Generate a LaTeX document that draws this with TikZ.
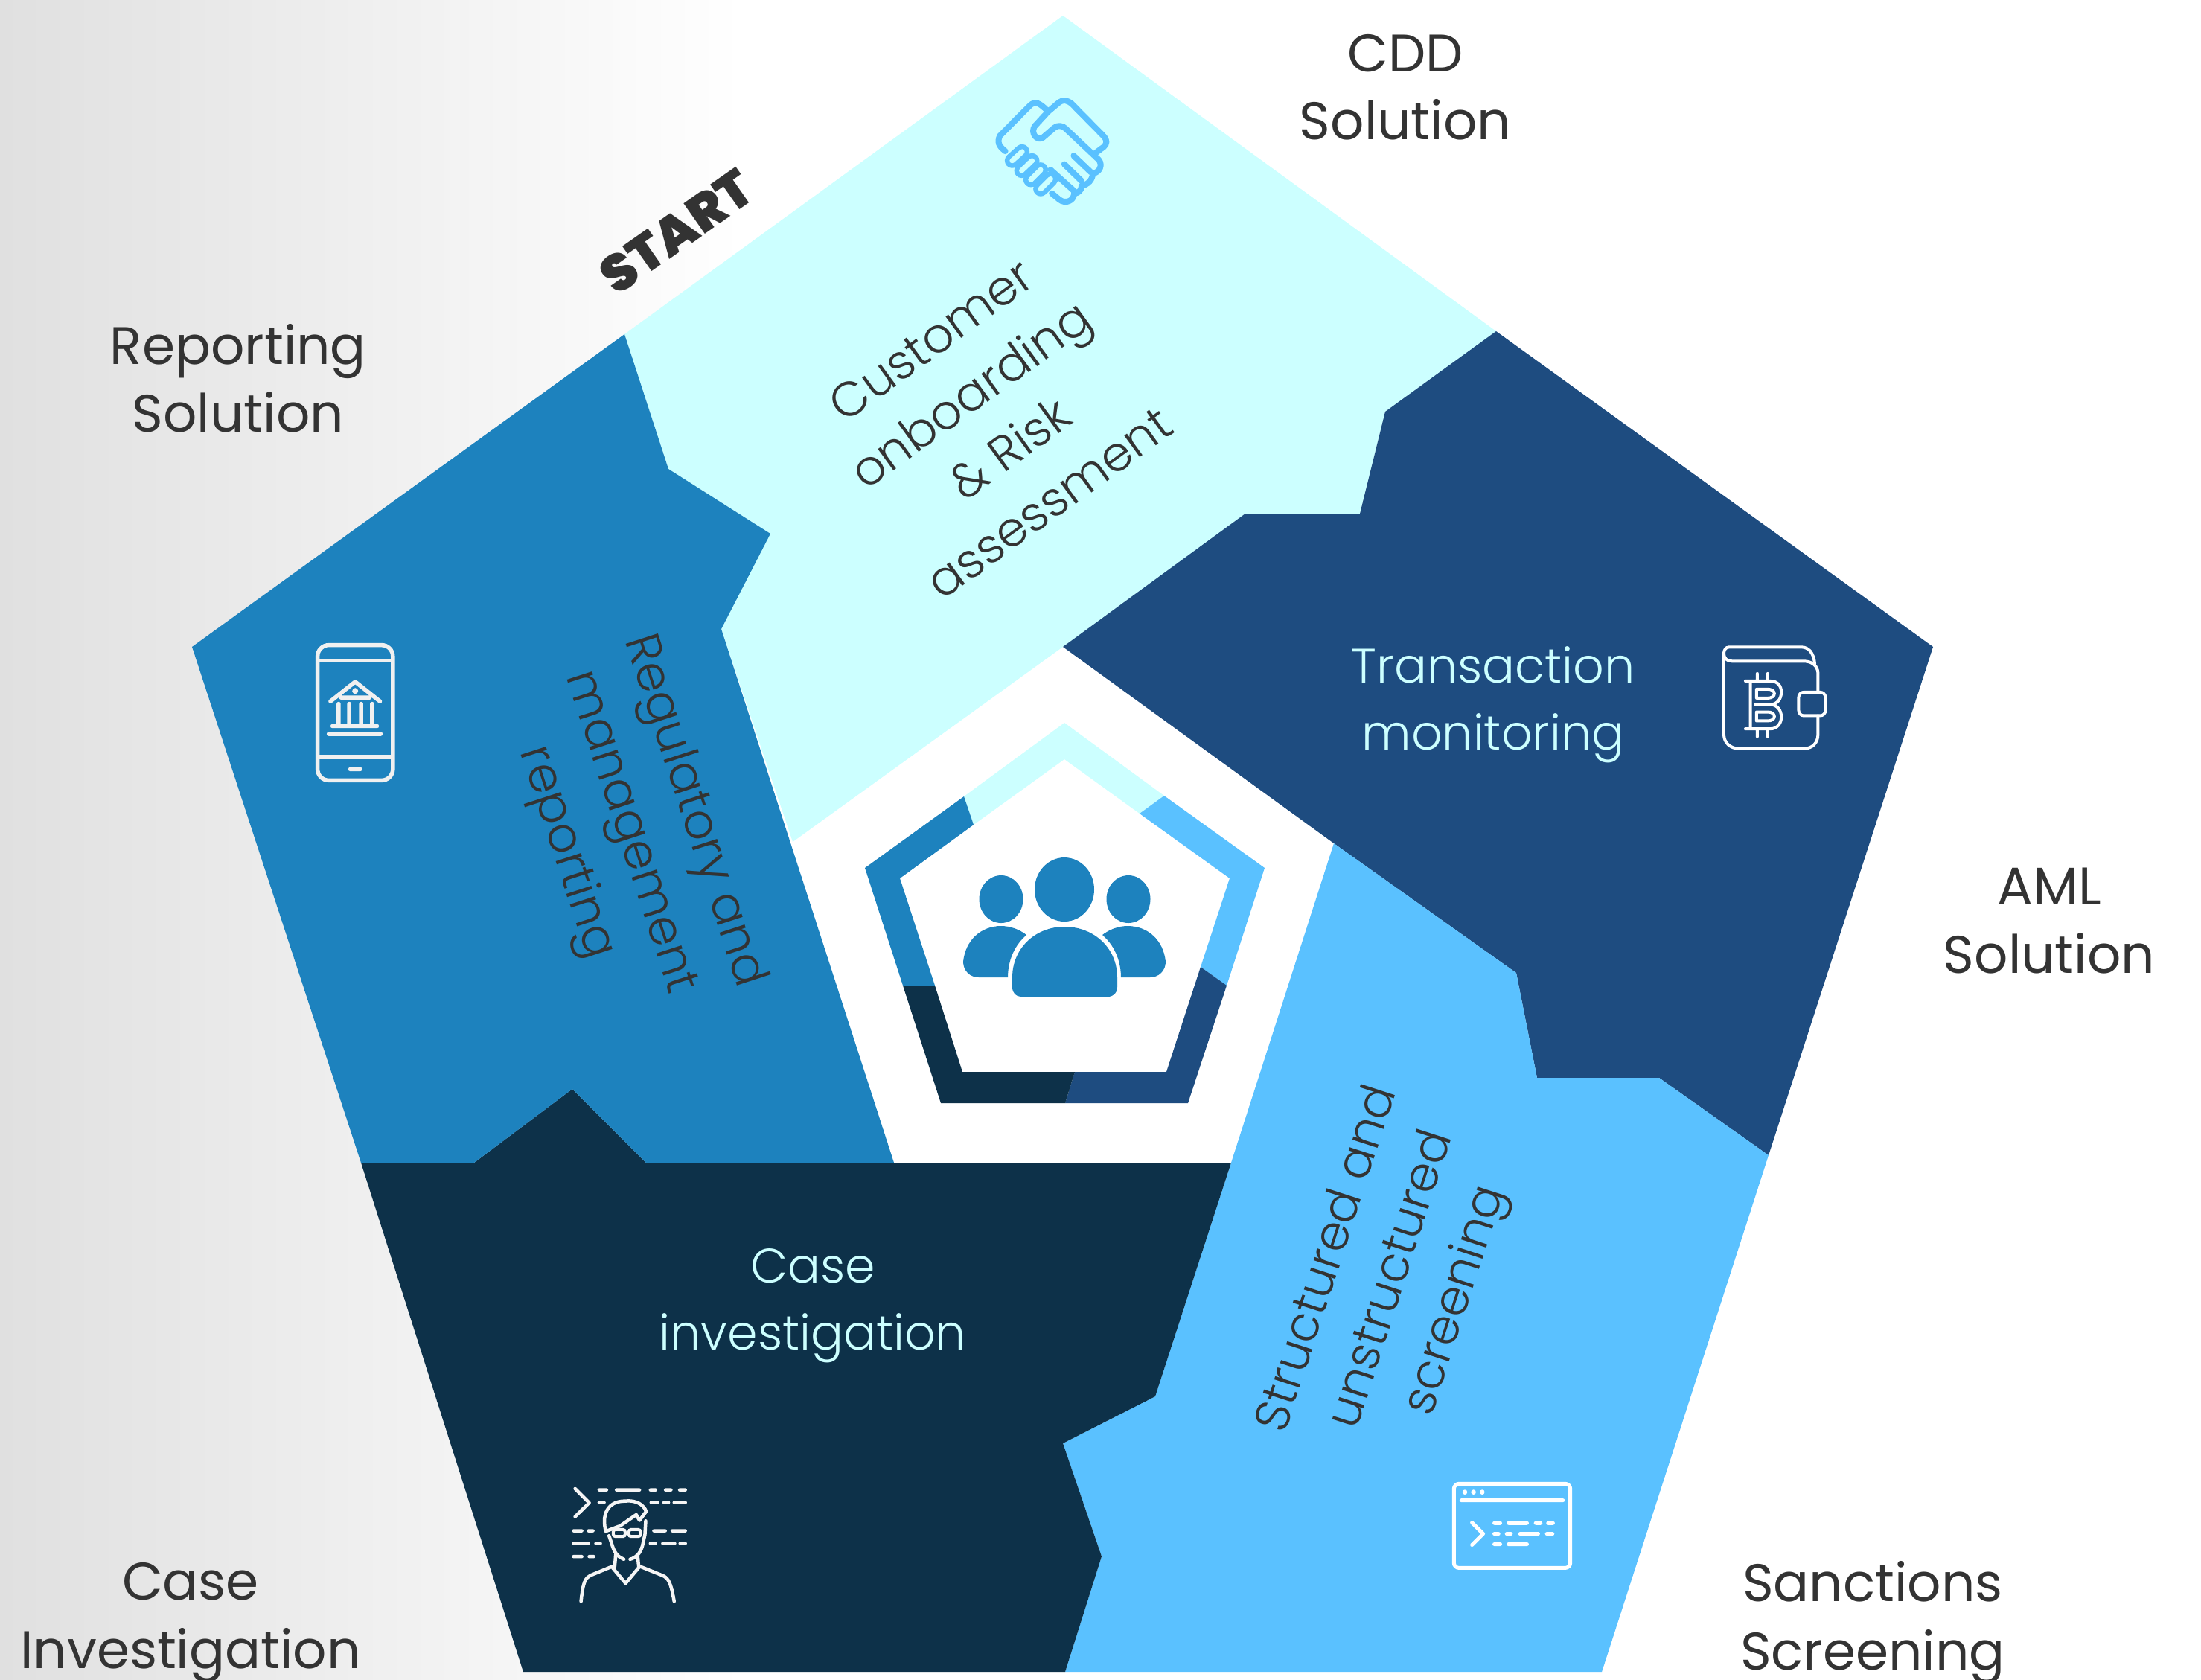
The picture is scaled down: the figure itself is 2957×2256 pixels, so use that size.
\documentclass[tikz,border=0pt]{standalone}
\usepackage{fontspec}
\setmainfont{Poppins}
\newfontfamily\lightf{Poppins Light}
\newfontfamily\blackf{Poppins Black}
\definecolor{cyanp}{HTML}{CCFFFF}
\definecolor{navyp}{HTML}{1E4C80}
\definecolor{skyp}{HTML}{5AC1FF}
\definecolor{darkp}{HTML}{0D3149}
\definecolor{midp}{HTML}{1D82BE}
\definecolor{textp}{HTML}{333333}
\definecolor{bgl}{HTML}{E0E0E0}
\tikzset{
  sol/.style={font=\fontsize{20.2}{26}\selectfont, text=textp, align=center, inner sep=0pt},
  body/.style={font=\lightf\fontsize{18.5}{25.6}\selectfont, text=textp, align=center, inner sep=0pt},
  bodyc/.style={body, text=cyanp},
  ic/.style={line cap=round, line join=round, line width=0.04cm},
  crop/.style={shift={(#1)}, x=0.003333cm, y=-0.003333cm},
}
\begin{document}
\begin{tikzpicture}[x=0.01cm,y=-0.01cm]
\useasboundingbox (0,0) rectangle (2957,2256);
\fill[white] (0,0) rectangle (2957,2256);
\fill[left color=bgl, right color=white] (0,0) rectangle (1000,2256);
% pieces
\fill[cyanp] (1428,21) -- (2010,445) -- (1861,553) -- (1827,690) -- (1673,690) -- (1428,869) -- (1065,1131) -- (969,845) -- (1035,717) -- (898,630) -- (839,449) -- cycle;
\fill[navyp] (2010,445) -- (2597,869) -- (2376,1552) -- (2229,1448) -- (2065,1448) -- (2037,1307) -- (1792,1133) -- (1428,869) -- (1673,690) -- (1827,690) -- (1861,553) -- cycle;
\fill[skyp] (1792,1133) -- (2037,1307) -- (2065,1448) -- (2229,1448) -- (2376,1552) -- (2152,2246) -- (1431,2246) -- (1480,2091) -- (1428,1939) -- (1552,1876) -- (1654,1562) -- cycle;
\fill[darkp] (485,1562) -- (637,1562) -- (769,1463) -- (868,1562) -- (1654,1562) -- (1552,1876) -- (1428,1939) -- (1480,2091) -- (1431,2246) -- (703,2246) -- cycle;
\fill[midp] (839,449) -- (898,630) -- (1035,717) -- (969,845) -- (1201,1562) -- (868,1562) -- (769,1463) -- (637,1562) -- (485,1562) -- (258,869) -- cycle;
% ring
\fill[cyanp] (1295,1070) -- (1430,971) -- (1564,1069) -- (1531,1093) -- (1430,1020) -- (1308,1108) -- cycle;
\fill[skyp] (1564,1069) -- (1699,1166) -- (1648,1324) -- (1613,1299) -- (1652,1180) -- (1531,1093) -- cycle;
\fill[navyp] (1648,1324) -- (1596,1482) -- (1431,1482) -- (1444,1440) -- (1567,1440) -- (1613,1299) -- cycle;
\fill[darkp] (1431,1482) -- (1264,1482) -- (1213,1324) -- (1256,1324) -- (1293,1440) -- (1444,1440) -- cycle;
\fill[midp] (1213,1324) -- (1162,1166) -- (1295,1070) -- (1308,1108) -- (1209,1180) -- (1256,1324) -- cycle;
% people
\fill[midp] (1430,1195) ellipse [x radius=40, y radius=43];
\fill[midp] (1345,1208) ellipse [x radius=29.5, y radius=32];
\fill[midp] (1516,1208) ellipse [x radius=29.5, y radius=32];
\fill[midp] (1360,1313) .. controls (1360,1275) and (1390,1245) .. (1430,1245) .. controls (1471,1245) and (1501,1275) .. (1501,1313) -- (1501,1326) .. controls (1501,1334) and (1496,1339) .. (1488,1339) -- (1372,1339) .. controls (1365,1339) and (1360,1334) .. (1360,1326) -- cycle;
\fill[midp] (1294,1292) .. controls (1297,1263) and (1318,1244) .. (1345,1244) .. controls (1358,1244) and (1370,1249) .. (1379,1256) .. controls (1364,1269) and (1354,1289) .. (1354,1313) -- (1315,1313) .. controls (1303,1313) and (1294,1304) .. (1294,1292) -- cycle;
\fill[midp] (1566,1292) .. controls (1563,1263) and (1542,1244) .. (1515,1244) .. controls (1502,1244) and (1490,1249) .. (1481,1256) .. controls (1496,1269) and (1506,1289) .. (1506,1313) -- (1545,1313) .. controls (1557,1313) and (1566,1304) .. (1566,1292) -- cycle;
% handshake
\begin{scope}[crop={1280,100}]
\draw[skyp, line width=0.08cm, line cap=round, line join=round]
  (212,310) .. controls (195,295) and (175,280) .. (190,248) -- (315,122) .. controls (330,108) and (350,112) .. (385,150)
  (385,150) -- (330,210) .. controls (315,235) and (335,265) .. (360,258) -- (410,215) .. controls (425,203) and (445,208) .. (455,218) -- (590,345)
  (385,150) -- (430,112) .. controls (445,100) and (465,105) .. (480,118) -- (610,250) .. controls (625,268) and (622,280) .. (610,292) -- (575,318)
  (590,345) .. controls (605,365) and (595,395) .. (565,400) .. controls (565,425) and (545,445) .. (520,450) .. controls (520,470) and (505,480) .. (490,480) .. controls (490,510) and (455,525) .. (430,505) -- (400,480)
  (395,385) -- (495,475)
  (450,362) -- (520,430)
  (488,328) -- (558,395);
\draw[skyp, line width=0.2cm, line cap=round] (240,348) -- (280,312) (278,388) -- (320,348) (315,425) -- (355,385) (355,462) -- (395,422);
\draw[cyanp, line width=0.07cm, line cap=round] (240,348) -- (280,312) (278,388) -- (320,348) (315,425) -- (355,385) (355,462) -- (395,422) (425,455) -- (452,482);
\end{scope}
% wallet
\begin{scope}[crop={2280,840}]
\draw[white, ic]
  (475,155) .. controls (470,110) and (450,88) .. (420,88) -- (130,88) .. controls (115,88) and (108,100) .. (108,115) .. controls (108,132) and (120,145) .. (140,145) -- (430,145) .. controls (465,145) and (488,165) .. (488,195) -- (488,265)
  (108,115) -- (108,440) .. controls (108,475) and (135,498) .. (170,498) -- (430,498) .. controls (465,498) and (488,475) .. (488,440) -- (488,365);
\draw[white, ic, rounded corners=0.07cm] (410,270) rectangle (518,365);
\draw[white, ic]
  (195,225) -- (295,225) .. controls (325,225) and (340,245) .. (340,270) .. controls (340,295) and (325,320) .. (295,320) .. controls (325,320) and (340,345) .. (340,370) .. controls (340,395) and (325,418) .. (295,418) -- (195,418)
  (215,225) -- (215,418) (243,195) -- (243,225) (285,195) -- (285,225) (243,418) -- (243,450) (285,418) -- (285,450)
  (240,258) -- (285,258) .. controls (300,258) and (312,265) .. (312,276) .. controls (312,287) and (300,294) .. (285,294) -- (240,294) -- cycle
  (240,350) -- (285,350) .. controls (300,350) and (312,357) .. (312,368) .. controls (312,379) and (300,386) .. (285,386) -- (240,386) -- cycle
  (235,320) -- (295,320);
\end{scope}
% phone
\begin{scope}[crop={400,850}]
\draw[white!94!black, line width=0.055cm, rounded corners=0.15cm] (80,50) rectangle (384,596);
\draw[white!94!black, line width=0.055cm] (80,113) -- (384,113) (80,502) -- (384,502);
\draw[white!94!black, line width=0.055cm, line cap=round, line join=round] (212,551) -- (252,551) (132,277) -- (232,198) -- (332,277) (175,262) -- (290,262)
 (165,287) -- (165,375) (208,287) -- (208,375) (256,287) -- (256,375) (300,287) -- (300,375) (140,377) -- (320,377) (125,409) -- (335,409);
\fill[white!94!black] (232,235) circle [radius=12];
\end{scope}
% person
\begin{scope}[crop={740,1970}]
\draw[white!96!black, line width=0.045cm, line cap=round, line join=round]
  (195,95) -- (225,95) (265,95) -- (358,95) (402,95) -- (423,95) (463,95) -- (485,95) (520,95) -- (543,95)
  (195,146) -- (215,146) (405,146) -- (430,146) (457,146) -- (475,146) (498,146) -- (543,146)
  (92,260) -- (125,260) (152,260) -- (170,260) (416,260) -- (462,260) (490,260) -- (543,260)
  (92,311) -- (152,311) (182,311) -- (200,311) (402,311) -- (422,311) (452,311) -- (500,311) (522,311) -- (543,311)
  (92,364) -- (125,364) (155,364) -- (173,364)
  (98,90) -- (155,147) -- (98,203)
  (222,262) .. controls (205,200) and (225,140) .. (300,140) .. controls (345,135) and (375,155) .. (385,182) -- (358,218) -- (345,195) -- (280,240) -- cycle
  (383,220) -- (380,275) (235,280) -- (250,325) .. controls (258,350) and (275,368) .. (295,375)
  (380,275) -- (370,320) .. controls (362,350) and (345,368) .. (320,375)
  (262,355) -- (258,405) (350,355) -- (355,405)
  (250,410) -- (302,472) -- (358,405)
  (250,403) -- (160,440) .. controls (140,450) and (130,465) .. (122,545)
  (358,403) -- (450,440) .. controls (475,450) and (485,470) .. (498,545);
\draw[white!96!black, line width=0.04cm, rounded corners=0.03cm] (252,255) rectangle (300,283) (315,255) rectangle (362,283);
\end{scope}
% window
\begin{scope}[crop={1930,1970}]
\draw[white, line width=0.05cm, rounded corners=0.07cm] (70,70) rectangle (540,410);
\fill[white] (114,104) circle [radius=10] (149,104) circle [radius=10] (184,104) circle [radius=10];
\draw[white, line width=0.05cm, line cap=round, line join=round] (100,137) -- (510,137) (143,227) -- (188,272) -- (143,317)
  (233,229) -- (257,229) (290,229) -- (365,229) (400,229) -- (420,229) (450,229) -- (470,229)
  (233,272) -- (250,272) (283,272) -- (300,272) (337,272) -- (410,272) (445,272) -- (468,272)
  (233,314) -- (257,314) (290,314) -- (365,314);
\end{scope}
% texts
\node[sol] (cdd) at (1888,117) {CDD\\Solution};
\node[sol] (rep) at (320,508) {Reporting\\Solution};
\node[sol] (aml) at (2753,1237) {AML\\Solution};
\node[sol] (san) at (2516,2180) {Sanctions\\Screening};
\node[sol] (cas) at (256,2180) {Case\\Investigation};
\node[bodyc] (tra) at (2006,947) {Transaction\\monitoring};
\node[bodyc] (inv) at (1092,1754) {Case\\investigation};
\node[body, rotate=36] (cust) at (1330,566) {Customer\\onboarding\\\& Risk\\assessment};
\node[body, rotate=-72] (regu) at (845,1118) {Regulatory and\\management\\reporting};
\node[body, rotate=72] (stru) at (1872,1720) {Structured and\\unstructured\\screening};
\node[font=\blackf\fontsize{20}{24}\selectfont, text=textp, rotate=35, inner sep=0pt] (start) at (909,311) {START};
\end{tikzpicture}
\end{document}
